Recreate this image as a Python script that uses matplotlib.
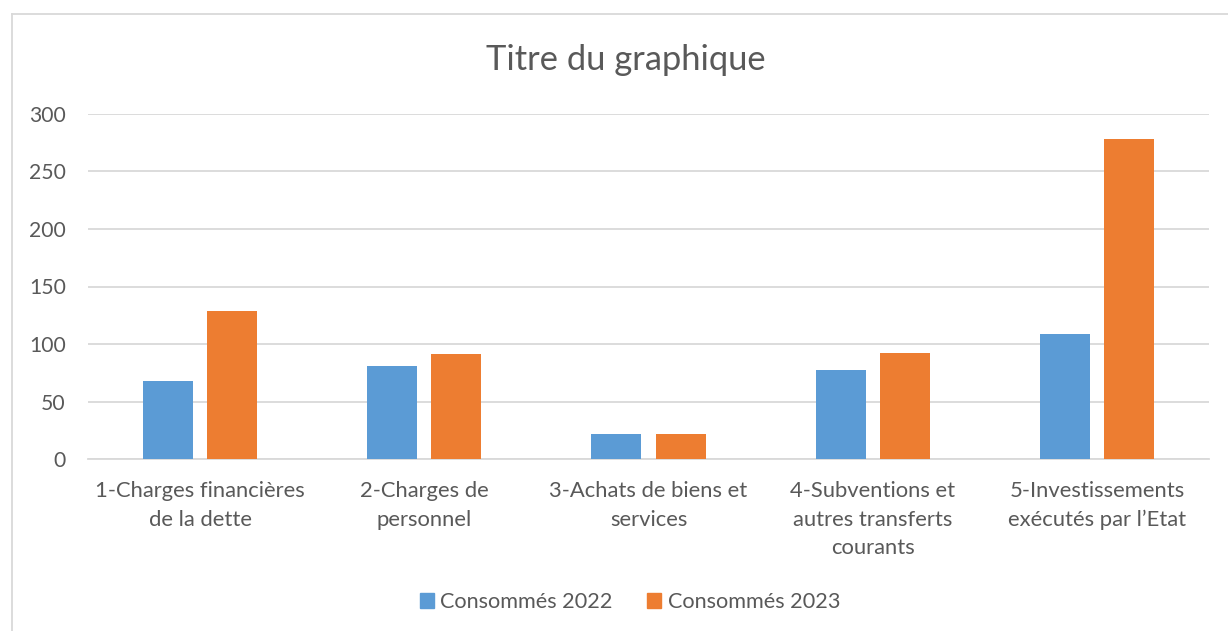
import matplotlib
matplotlib.use("Agg")
import matplotlib.pyplot as plt
import numpy as np
from matplotlib.lines import Line2D
from matplotlib.patches import Patch

categories = [
    "1-Charges financières\nde la dette",
    "2-Charges de\npersonnel",
    "3-Achats de biens et\nservices",
    "4-Subventions et\nautres transferts\ncourants",
    "5-Investissements\nexécutés par l\u2019Etat",
]
conso_2022 = [68, 81, 22, 77.5, 109]
conso_2023 = [129, 91.5, 21.5, 92, 278]
series_names = ["Consommés 2022", "Consommés 2023"]
yticks = [0, 50, 100, 150, 200, 250, 300]

BLUE = "#5B9BD5"
ORANGE = "#ED7D31"
TXT = "#595959"
GRID = "#D9D9D9"

plt.rcParams['font.family'] = ['Lato', 'DejaVu Sans']

W, H = 1228, 631
fig = plt.figure(figsize=(W / 100, H / 100), dpi=100)
fig.patch.set_facecolor("white")

# plot area in pixels
x0, x1 = 88, 1209
y_top, y_bot = 114, 459
ax = fig.add_axes([x0 / W, 1 - y_bot / H, (x1 - x0) / W, (y_bot - y_top) / H])

x = np.arange(len(categories))
bw = 0.223
off = 0.143
ax.bar(x - off, conso_2022, bw, color=BLUE, label=series_names[0], zorder=3)
ax.bar(x + off, conso_2023, bw, color=ORANGE, label=series_names[1], zorder=3)

ax.set_xlim(-0.5, len(categories) - 0.5)
ax.set_ylim(0, 300)
ax.set_yticks(yticks)
ax.set_yticklabels([str(v) for v in yticks])
ax.set_xticks(x)
ax.set_xticklabels(categories, linespacing=1.52)
ax.tick_params(axis='both', length=0, colors=TXT)
ax.tick_params(axis='x', labelsize=15.8, pad=16)
ax.tick_params(axis='y', labelsize=15.2, pad=16)
for lab in ax.get_xticklabels():
    lab.set_verticalalignment('top')

ax.grid(axis='y', color=GRID, linewidth=1.3, zorder=0)
for s in ['top', 'right', 'left']:
    ax.spines[s].set_visible(False)
ax.spines['bottom'].set_color(GRID)
ax.spines['bottom'].set_linewidth(1.3)
ax.set_facecolor("none")

fig.text(626 / W, 1 - 60 / H, "Titre du graphique", ha='center', va='center',
         fontsize=24.8, color=TXT)

handles = [Patch(color=BLUE), Patch(color=ORANGE)]
fig.legend(handles, series_names, loc='center', bbox_to_anchor=(630 / W, 1 - 602 / H),
           ncol=2, frameon=False, fontsize=15.6, labelcolor=TXT,
           handlelength=0.65, handleheight=0.65, handletextpad=0.3, columnspacing=1.6)

# outer chart border (left and top visible)
fig.add_artist(Line2D([12 / W, 12 / W], [0, 1 - 14 / H], color=GRID, linewidth=1.3,
                      transform=fig.transFigure))
fig.add_artist(Line2D([12 / W, 1], [1 - 14 / H, 1 - 14 / H], color=GRID, linewidth=1.3,
                      transform=fig.transFigure))

fig.savefig("out.png", dpi=100, facecolor="white")
